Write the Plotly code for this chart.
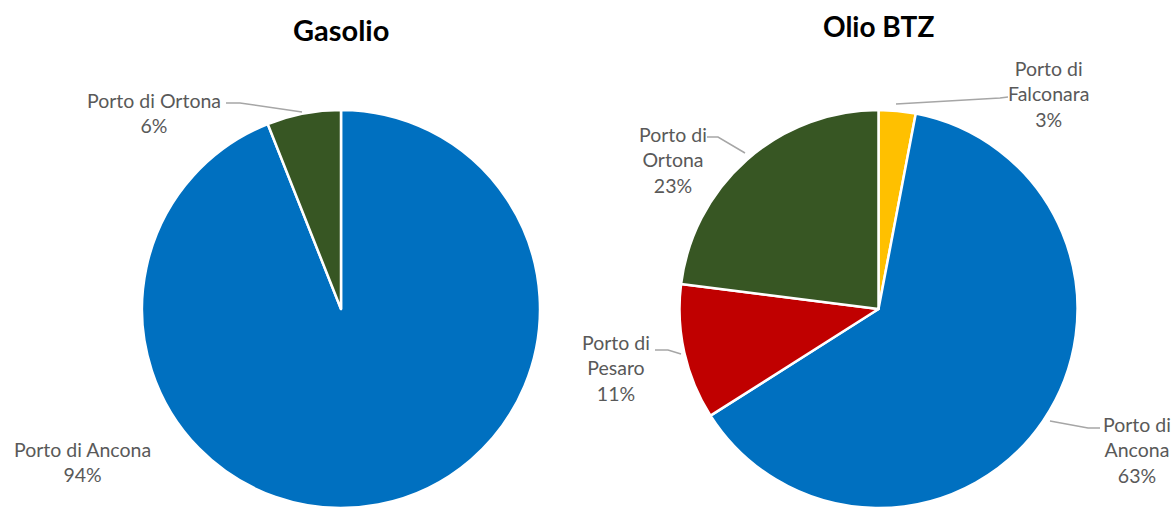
import plotly.graph_objects as go

W, H = 1172, 508

# ---- data ----
gas_labels = ["Porto di Ancona", "Porto di Ortona"]
gas_values = [94, 6]
gas_colors = ["#0070C0", "#375623"]

btz_labels = ["Porto di Falconara", "Porto di Ancona", "Porto di Pesaro", "Porto di Ortona"]
btz_values = [3, 63, 11, 23]
btz_colors = ["#FFC000", "#0070C0", "#C00000", "#375623"]

titles = ["Gasolio", "Olio BTZ"]


def px(x):
    return x / W


def py(y):
    return 1 - y / H


def pct(vals):
    s = sum(vals)
    return [f"{round(v / s * 100)}%" for v in vals]


R = 199
cy = 309


def dom(cx):
    return dict(x=[px(cx - R), px(cx + R)], y=[0, 2 * R / H])


fig = go.Figure()
fig.add_trace(go.Pie(
    labels=gas_labels, values=gas_values, sort=False, direction="clockwise",
    rotation=0, marker=dict(colors=gas_colors, line=dict(color="white", width=2.5)),
    textinfo="none", hoverinfo="label+percent", domain=dom(341), showlegend=False,
))
fig.add_trace(go.Pie(
    labels=btz_labels, values=btz_values, sort=False, direction="clockwise",
    rotation=0, marker=dict(colors=btz_colors, line=dict(color="white", width=2.5)),
    textinfo="none", hoverinfo="label+percent", domain=dom(878.5), showlegend=False,
))

gp = pct(gas_values)
bp = pct(btz_values)

label_font = dict(family="Lato, Open Sans, sans-serif", size=19.5, color="#595959")
annots = [
    # titles
    dict(x=px(341), y=py(29), text=f"<b>{titles[0]}</b>", size=29),
    dict(x=px(878), y=py(26), text=f"<b>{titles[1]}</b>", size=28),
    # left pie labels
    dict(x=px(154), y=py(113), text=f"{gas_labels[1]}<br>{gp[1]}"),
    dict(x=px(82), y=py(462), text=f"{gas_labels[0]}<br>{gp[0]}"),
    # right pie labels
    dict(x=px(1048), y=py(94), text=f"Porto di<br>Falconara<br>{bp[0]}"),
    dict(x=px(673), y=py(160), text=f"Porto di<br>Ortona<br>{bp[3]}"),
    dict(x=px(616), y=py(368), text=f"Porto di<br>Pesaro<br>{bp[2]}"),
    dict(x=px(1137), y=py(450), text=f"Porto di<br>Ancona<br>{bp[1]}"),
]
layout_annots = []
for i, a in enumerate(annots):
    size = a.pop("size", None)
    a.update(xref="paper", yref="paper", showarrow=False, xanchor="center", yanchor="middle")
    if size:
        a["font"] = dict(family="Lato, Open Sans, sans-serif", size=size, color="black")
    else:
        a["font"] = label_font
    layout_annots.append(a)

leaders = [
    [(226, 103), (240, 103), (302, 112)],
    [(896, 104), (1000, 98), (1008, 97)],
    [(707, 137), (718, 137), (745, 153)],
    [(655, 350), (668, 350), (681, 354)],
    [(1050, 421), (1088, 428), (1100, 428)],
]
shapes = []
for pts in leaders:
    path = "M " + " L ".join(f"{px(x):.5f},{py(y):.5f}" for x, y in pts)
    shapes.append(dict(type="path", xref="paper", yref="paper", path=path,
                       line=dict(color="#A6A6A6", width=1.5)))

fig.update_layout(
    width=W, height=H, margin=dict(l=0, r=0, t=0, b=0),
    paper_bgcolor="white", plot_bgcolor="white",
    annotations=layout_annots, shapes=shapes,
)

fig.write_html("out.html")
